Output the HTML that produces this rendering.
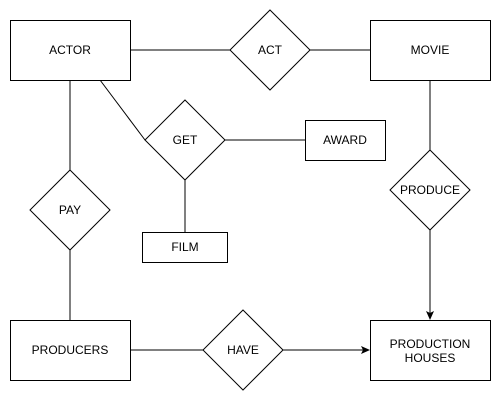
<!DOCTYPE html>
<html><head><style>
html,body{margin:0;padding:0;background:#fff;}
svg{display:block;}
text{font-family:"Liberation Sans",Arial,sans-serif;font-size:12px;fill:#000;}
</style></head><body>
<svg width="501" height="401" viewBox="0 0 501 401" xmlns="http://www.w3.org/2000/svg">
<defs><marker id="a" markerWidth="10" markerHeight="10" refX="8" refY="5" orient="auto" markerUnits="userSpaceOnUse"><path d="M0,1 L9,5 L0,9 L2,5 Z" fill="#000"/></marker></defs>
<g stroke="#000" stroke-width="1" fill="none">
<line x1="130" y1="50" x2="230" y2="50"/>
<line x1="310" y1="50" x2="370" y2="50"/>
<line x1="70" y1="80" x2="70" y2="170"/>
<line x1="70" y1="250" x2="70" y2="320"/>
<line x1="100" y1="80" x2="145" y2="140"/>
<line x1="225" y1="140" x2="305" y2="140"/>
<line x1="185" y1="180" x2="185" y2="232"/>
<line x1="430" y1="80" x2="430" y2="150"/>
<line x1="430" y1="230" x2="430" y2="319" marker-end="url(#a)"/>
<line x1="130" y1="350" x2="203" y2="350"/>
<line x1="283" y1="350" x2="369" y2="350" marker-end="url(#a)"/>
</g>
<g stroke="#000" stroke-width="1" fill="#fff">
<rect x="10.5" y="20.5" width="120" height="60"/>
<rect x="370.5" y="20.5" width="120" height="60"/>
<rect x="305.5" y="120.5" width="80" height="40"/>
<rect x="142.5" y="232.5" width="85" height="30"/>
<rect x="10.5" y="320.5" width="120" height="60"/>
<rect x="370.5" y="320.5" width="120" height="60"/>
<polygon points="270,10 310,50 270,90 230,50"/>
<polygon points="185,100 225,140 185,180 145,140"/>
<polygon points="70,170 110,210 70,250 30,210"/>
<polygon points="430,150 470,190 430,230 390,190"/>
<polygon points="243,310 283,350 243,390 203,350"/>
</g>
<g text-anchor="middle">
<text x="70" y="54">ACTOR</text>
<text x="430" y="54">MOVIE</text>
<text x="270" y="54">ACT</text>
<text x="185" y="144">GET</text>
<text x="345" y="144">AWARD</text>
<text x="185" y="251">FILM</text>
<text x="70" y="214">PAY</text>
<text x="430" y="194">PRODUCE</text>
<text x="70" y="354">PRODUCERS</text>
<text x="243" y="354">HAVE</text>
<text x="430" y="348">PRODUCTION</text>
<text x="430" y="362">HOUSES</text>
</g>
</svg>
</body></html>
